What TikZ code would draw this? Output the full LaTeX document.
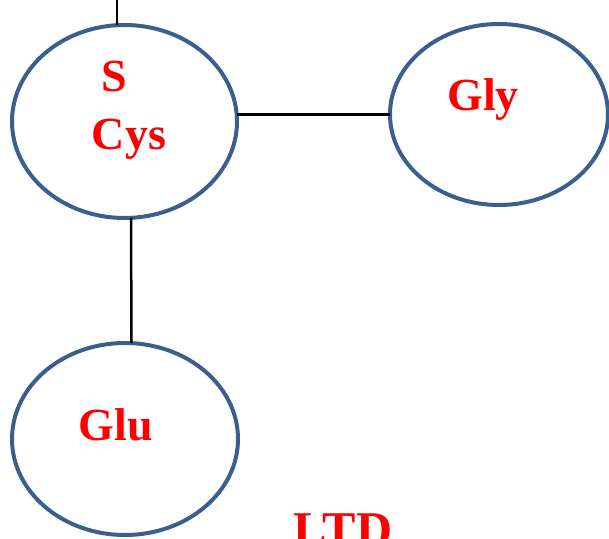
\documentclass[tikz,border=0pt]{standalone}
\usepackage{fontspec}
\setmainfont{Liberation Serif}
\usetikzlibrary{shapes.geometric}
\definecolor{ringblue}{HTML}{3A5F8F}
\begin{document}
\begin{tikzpicture}[x=1pt,y=1pt,
  ring/.style={draw=ringblue,line width=4pt,ellipse,inner sep=0pt,outer sep=0pt},
  lbl/.style={text=red,font=\fontsize{46}{50}\selectfont\bfseries,anchor=base,inner sep=0pt},
  link/.style={draw=black,line width=2.5pt}]
\useasboundingbox (0,0) rectangle (609,538);
\node[ring,minimum width=225pt,minimum height=193pt] (cys) at (124.5,416.5) {};
\node[ring,minimum width=218pt,minimum height=181pt] (gly) at (499,423.5) {};
\node[ring,minimum width=226pt,minimum height=192pt] (glu) at (125,99) {};
\coordinate (top) at (117,538);
\draw[link] (top) -- (top |- cys.north);
\draw[link] (gly.west) -- (gly.west -| cys.east);
\draw[link] ([xshift=6.5pt]cys.south) -- ([xshift=6.5pt]glu.north);
\node[lbl] (s) at (114,446) {S};
\node[lbl] (cyst) at (129,388) {Cys};
\node[lbl] (glyt) at (483,427) {Gly};
\node[lbl] (glut) at (116,98) {Glu};
\node[lbl,font=\fontsize{50}{54}\selectfont\bfseries] (ltd) at (343,-8) {LTD};
\end{tikzpicture}
\end{document}
